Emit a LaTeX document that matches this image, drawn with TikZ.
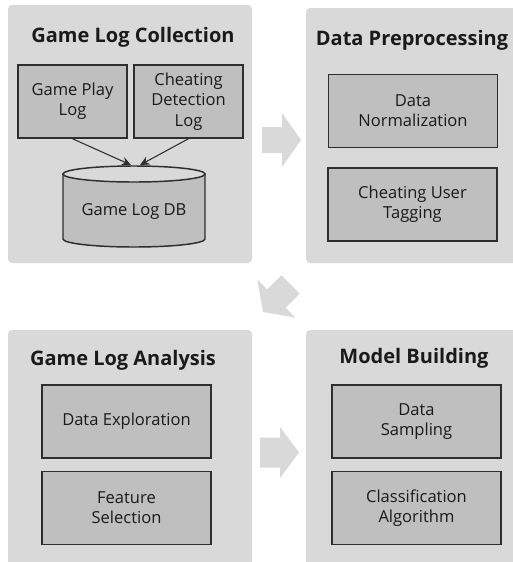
\documentclass[tikz,border=0pt]{standalone}
\usepackage{fontspec}
\setmainfont{Open Sans}
\usetikzlibrary{arrows.meta}
\definecolor{panelgray}{HTML}{D9D9D9}
\definecolor{boxgray}{HTML}{BFBFBF}
\definecolor{edgegray}{HTML}{2E2E2E}
\definecolor{txt}{HTML}{1A1A1A}
\begin{document}
\begin{tikzpicture}[x=0.75pt,y=-0.75pt,
  panel/.style={fill=panelgray, rounded corners=3pt},
  title/.style={font=\fontsize{15}{18}\selectfont\bfseries, text=txt, anchor=base, inner sep=0pt},
  itemfont/.style={font=\fontsize{12.4}{15.2}\selectfont, text=txt},
  item/.style={draw=edgegray, line width=1.1pt, fill=boxgray, itemfont, align=center, inner sep=0pt, minimum width=126.75pt, minimum height=55pt},
  smallitem/.style={item, minimum width=81.75pt, minimum height=54.75pt},
  flow/.style={fill=panelgray},
  feed/.style={draw=edgegray, line width=0.8pt, -{Stealth[length=7pt,width=6.5pt]}}]
\useasboundingbox (0,0) rectangle (513,562);
\clip (0,0) rectangle (513,562);
% panels
\fill[panel] (8,5) rectangle (252,263);
\fill[panel] (306,8) rectangle (520,263);
\fill[panel] (8,330) rectangle (252,570);
\fill[panel] (306,330) rectangle (520,570);
% titles
\node[title] (t1) at (133,42) {Game Log Collection};
\node[title] (t2) at (412,45) {Data Preprocessing};
\node[title] (t3) at (123,365) {Game Log Analysis};
\node[title] (t4) at (414,363) {Model Building};
% collection
\node[smallitem] (gp) at (72.5,101.5) {Game Play\\Log};
\node[smallitem] (cd) at (188.5,101.5) {Cheating\\Detection\\Log};
\fill[boxgray] (63,174) -- (63,239) arc[start angle=180,end angle=0,x radius=71,y radius=8] -- (205,174) -- cycle;
\draw[edgegray, line width=1.1pt] (63,174) -- (63,239) arc[start angle=180,end angle=0,x radius=71,y radius=8] -- (205,174);
\draw[edgegray, line width=1.1pt, fill=panelgray] (134,174) ellipse[x radius=71, y radius=8];
\node[itemfont, inner sep=0pt] (db) at (134,211) {Game Log DB};
\coordinate (in1) at (131,165);
\coordinate (in2) at (140,165);
\draw[feed] (gp.south) -- (in1);
\draw[feed] (cd.south) -- (in2);
% preprocessing
\node[item] (dn) at (413,111) {Data\\Normalization};
\node[item] (cu) at (412.5,204.5) {Cheating User\\Tagging};
% analysis
\node[item] (de) at (126.5,421.5) {Data Exploration};
\node[item] (fs) at (126.5,508) {Feature\\Selection};
% model
\node[item] (ds) at (416.5,421.5) {Data\\Sampling};
\node[item] (ca) at (416.5,508) {Classification\\Algorithm};
% big flow arrows
\fill[flow, shift={(301,140)}] (0,0) -- (-19,-27) -- (-19,-13) -- (-39,-13) -- (-39,13) -- (-19,13) -- (-19,27) -- cycle;
\fill[flow, shift={(263,312)}, rotate=-135] (0,0) -- (-19,-27) -- (-19,-13) -- (-39,-13) -- (-39,13) -- (-19,13) -- (-19,27) -- cycle;
\fill[flow, shift={(299,452.5)}] (0,0) -- (-19,-25.5) -- (-19,-15) -- (-39,-15) -- (-39,15) -- (-19,15) -- (-19,25.5) -- cycle;
\end{tikzpicture}
\end{document}
